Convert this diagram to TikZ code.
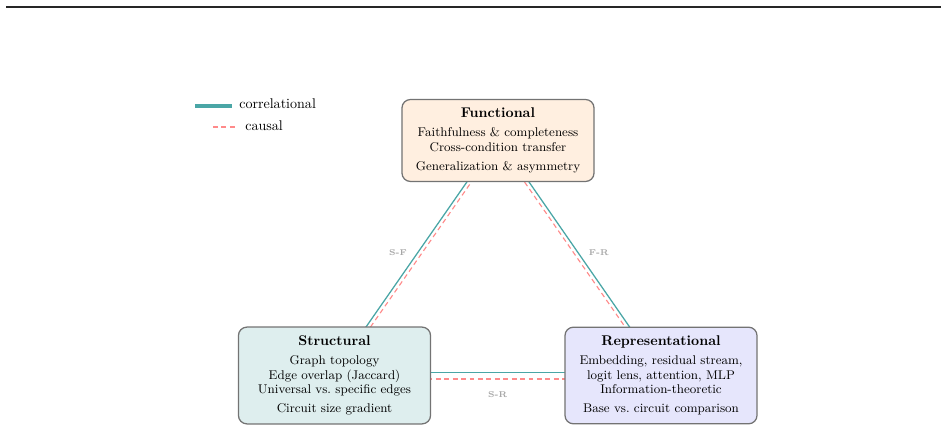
\documentclass[tikz,border=0pt]{standalone}
\usetikzlibrary{backgrounds}

\definecolor{corrteal}{RGB}{74,166,166}
\definecolor{causred}{RGB}{255,138,138}
\definecolor{funcfill}{RGB}{255,239,224}
\definecolor{strucfill}{RGB}{222,238,238}
\definecolor{reprfill}{RGB}{230,230,252}

\begin{document}
\begin{tikzpicture}[x=0.025cm, y=-0.025cm,
  dimbox/.style={draw=black!55, line width=0.9pt, rounded corners=6pt, align=center,
    minimum width=4.8cm, inner sep=6pt, font=\fontsize{9}{10.5}\selectfont},
  corr/.style={draw=corrteal, line width=0.9pt},
  caus/.style={draw=causred, line width=0.8pt, dash pattern=on 3.5pt off 2.5pt},
  pairlbl/.style={font=\fontsize{6}{7}\selectfont\bfseries, text=black!35, inner sep=1pt}]
  \useasboundingbox (0,0) rectangle (948,432);

  % Top rule
  \draw[line width=1.1pt, black!85] (6,6.8) -- (941,6.8);

  % The three dimensions
  \node[dimbox, fill=funcfill] (func) at (498,140.5)
    {{\normalsize\bfseries Functional}\\[3pt]
     Faithfulness \& completeness\\
     Cross-condition transfer\\[3pt]
     Generalization \& asymmetry};
  \node[dimbox, fill=strucfill] (struc) at (334.5,375.5)
    {{\normalsize\bfseries Structural}\\[3pt]
     Graph topology\\
     Edge overlap (Jaccard)\\
     Universal vs.\ specific edges\\[3pt]
     Circuit size gradient};
  \node[dimbox, fill=reprfill] (repr) at (661,375.5)
    {{\normalsize\bfseries Representational}\\[3pt]
     Embedding, residual stream,\\
     logit lens, attention, MLP\\
     Information-theoretic\\[3pt]
     Base vs.\ circuit comparison};

  % Pairwise links, hidden under the boxes
  \begin{scope}[on background layer]
    \draw[corr] ([xshift=-1.6pt]struc.center) -- ([xshift=-1.6pt]func.center);
    \draw[caus] ([xshift=1.6pt]struc.center) -- ([xshift=1.6pt]func.center);
    \draw[corr] ([xshift=1.6pt]func.center) -- ([xshift=1.6pt]repr.center);
    \draw[caus] ([xshift=-1.6pt]func.center) -- ([xshift=-1.6pt]repr.center);
    \draw[corr] ([yshift=2.2pt]struc.center) -- ([yshift=2.2pt]repr.center);
    \draw[caus] ([yshift=-2.5pt]struc.center) -- ([yshift=-2.5pt]repr.center);
  \end{scope}

  % Pair labels
  \path (struc) -- node[pairlbl, pos=0.51, left=8pt] (lbl-sf) {S-F} (func);
  \path (func) -- node[pairlbl, pos=0.49, right=8pt] (lbl-fr) {F-R} (repr);
  \path (struc) -- node[pairlbl, midway, below=10pt] (lbl-sr) {S-R} (repr);

  % Legend
  \draw[corrteal, line width=2.2pt] (195,106) -- (232,106);
  \node[anchor=west, inner sep=0pt] (leg-corr) at (239,104) {correlational};
  \draw[caus] (213,127) -- (237,127);
  \node[anchor=west, inner sep=0pt] (leg-caus) at (245,126) {causal};
\end{tikzpicture}
\end{document}
